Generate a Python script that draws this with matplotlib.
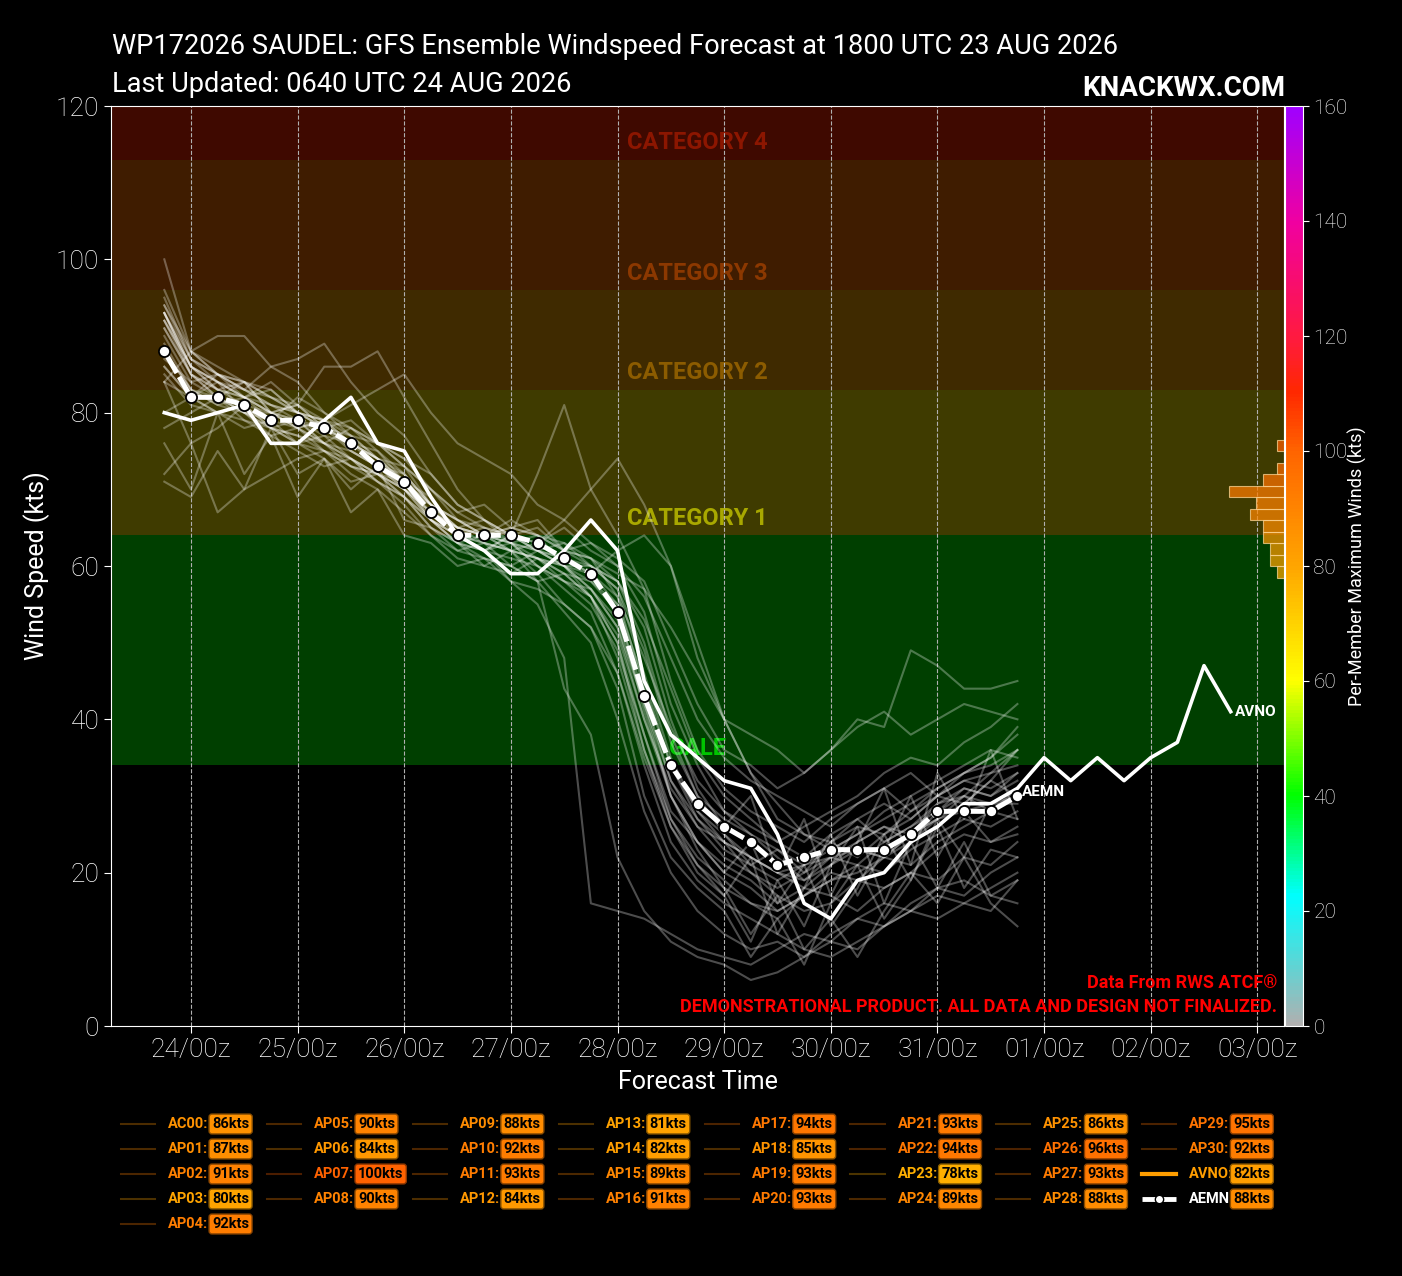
import numpy as np
import matplotlib
matplotlib.use("Agg")
import matplotlib.pyplot as plt
import matplotlib.colors as mcolors
import matplotlib.dates as mdates
import matplotlib.transforms as mtrans
from matplotlib import font_manager
from matplotlib.lines import Line2D
from datetime import datetime, timedelta

# ---------------- data ----------------
init = datetime(2026, 8, 23, 18)

members = ["AC00"] + [f"AP{i:02d}" for i in range(1, 31)]

AC00 = [86, 82, 80, 81, 78, 77, 76, 74, 72, 70, 66, 64, 63, 62, 61, 60, 57, 52, 40, 31, 26, 24, 22, 20, 21, 22, 23, 22, 24, 27, 28, 29, 30]
AP01 = [87, 84, 82, 80, 80, 78, 79, 75, 73, 72, 68, 65, 66, 64, 62, 63, 60, 58, 50, 38, 30, 27, 25, 22, 19, 21, 24, 26, 25, 29, 31, 30, 33]
AP02 = [91, 85, 83, 84, 80, 81, 78, 77, 74, 71, 69, 64, 65, 63, 64, 60, 58, 55, 41, 30, 24, 20, 18, 15, 17, 20, 19, 22, 25, 27, 29, 32, 36]
AP03 = [76, 70, 80, 72, 77, 69, 74, 70, 73, 66, 65, 62, 63, 60, 58, 59, 56, 50, 36, 27, 22, 19, 16, 14, 17, 19, 21, 20, 23, 25, 27, 26, 28]
AP04 = [92, 86, 84, 82, 83, 80, 78, 79, 76, 73, 70, 66, 64, 65, 66, 62, 60, 57, 46, 35, 28, 25, 21, 23, 20, 24, 22, 25, 27, 30, 32, 33, 34]
AP05 = [84, 88, 90, 90, 86, 84, 80, 78, 76, 74, 72, 68, 66, 64, 65, 62, 63, 60, 54, 42, 34, 28, 26, 24, 22, 25, 27, 24, 26, 29, 30, 28, 31]
AP06 = [84, 76, 67, 70, 72, 74, 75, 72, 70, 67, 64, 61, 60, 62, 59, 55, 52, 44, 30, 22, 18, 15, 9, 14, 8, 16, 21, 14, 19, 26, 18, 23, 22]
AP07 = [100, 88, 85, 84, 82, 80, 79, 76, 74, 73, 70, 67, 68, 65, 64, 62, 61, 56, 44, 34, 27, 23, 21, 19, 21, 24, 26, 25, 28, 31, 33, 35, 38]
AP08 = [90, 84, 85, 82, 84, 81, 86, 86, 88, 82, 76, 70, 66, 63, 61, 60, 56, 48, 36, 26, 20, 17, 11, 19, 13, 21, 26, 16, 24, 18, 24, 17, 19]
AP09 = [88, 83, 81, 82, 79, 78, 76, 73, 72, 70, 68, 64, 62, 64, 63, 66, 70, 74, 68, 60, 50, 40, 33, 29, 25, 23, 25, 27, 29, 31, 33, 34, 36]
AP10 = [92, 85, 82, 80, 79, 82, 80, 77, 74, 70, 67, 65, 64, 66, 64, 63, 61, 58, 52, 40, 31, 26, 30, 20, 27, 17, 24, 31, 21, 33, 27, 36, 27]
AP11 = [93, 86, 83, 81, 80, 79, 76, 78, 75, 71, 66, 63, 61, 60, 58, 54, 50, 40, 28, 20, 15, 12, 10, 11, 9, 12, 14, 13, 16, 18, 17, 20, 22]
AP12 = [80, 82, 84, 80, 77, 78, 75, 73, 71, 69, 66, 63, 62, 64, 72, 81, 70, 64, 57, 45, 36, 31, 28, 26, 24, 27, 29, 31, 28, 30, 32, 31, 33]
AP13 = [72, 76, 78, 81, 78, 76, 74, 71, 72, 69, 65, 63, 60, 59, 61, 58, 55, 49, 38, 28, 24, 20, 24, 16, 21, 13, 18, 25, 19, 27, 22, 29, 29]
AP14 = [78, 80, 82, 79, 77, 75, 73, 74, 71, 68, 64, 62, 61, 60, 62, 60, 57, 53, 42, 32, 26, 22, 20, 17, 15, 16, 19, 18, 20, 23, 25, 24, 26]
AP15 = [84, 82, 85, 83, 86, 87, 89, 84, 80, 77, 72, 68, 66, 64, 63, 65, 62, 60, 56, 48, 40, 35, 32, 30, 28, 26, 29, 31, 33, 30, 33, 35, 39]
AP16 = [91, 85, 83, 82, 80, 79, 77, 76, 73, 71, 66, 64, 62, 58, 55, 48, 16, 15, 14, 12, 10, 9, 8, 10, 12, 11, 14, 16, 15, 18, 19, 17, 16]
AP17 = [94, 87, 84, 83, 81, 80, 78, 76, 75, 72, 68, 66, 64, 63, 62, 60, 59, 55, 45, 34, 28, 24, 22, 20, 18, 21, 23, 22, 25, 27, 30, 29, 31]
AP18 = [85, 81, 80, 78, 79, 76, 75, 73, 72, 69, 66, 64, 62, 63, 60, 58, 56, 51, 40, 30, 24, 21, 19, 16, 18, 17, 15, 18, 20, 19, 22, 21, 24]
AP19 = [93, 85, 82, 84, 80, 78, 79, 76, 74, 71, 67, 65, 64, 62, 63, 61, 59, 62, 64, 60, 48, 40, 33, 27, 25, 24, 27, 29, 27, 30, 29, 32, 30]
AP20 = [93, 86, 83, 82, 80, 81, 78, 75, 73, 70, 66, 63, 62, 61, 60, 58, 57, 52, 42, 30, 23, 18, 12, 17, 10, 14, 9, 15, 20, 16, 22, 16, 13]
AP21 = [93, 87, 85, 83, 82, 80, 79, 81, 83, 85, 80, 76, 74, 72, 68, 66, 63, 61, 58, 50, 42, 36, 34, 31, 33, 36, 40, 39, 49, 47, 44, 44, 45]
AP22 = [94, 88, 85, 84, 82, 81, 79, 77, 76, 73, 68, 65, 64, 63, 60, 57, 54, 46, 34, 24, 19, 16, 14, 12, 10, 9, 11, 13, 15, 14, 16, 15, 19]
AP23 = [71, 69, 75, 70, 78, 72, 74, 67, 70, 64, 63, 60, 61, 58, 57, 55, 52, 46, 35, 26, 21, 18, 16, 15, 17, 19, 20, 22, 21, 24, 26, 28, 27]
AP24 = [89, 83, 81, 80, 78, 79, 76, 74, 72, 71, 68, 66, 65, 64, 62, 60, 60, 58, 53, 44, 35, 30, 27, 24, 26, 28, 30, 33, 35, 34, 37, 39, 42]
AP25 = [86, 82, 80, 79, 78, 76, 77, 74, 71, 69, 65, 63, 64, 62, 61, 59, 58, 54, 43, 32, 27, 24, 20, 18, 20, 22, 21, 24, 26, 28, 31, 30, 32]
AP26 = [96, 88, 86, 84, 83, 80, 79, 78, 76, 74, 70, 67, 65, 64, 62, 61, 60, 57, 49, 37, 30, 25, 22, 20, 19, 22, 24, 26, 24, 28, 30, 33, 36]
AP27 = [93, 86, 84, 82, 80, 78, 76, 75, 73, 70, 67, 64, 63, 62, 58, 44, 38, 22, 15, 11, 9, 8, 6, 7, 9, 11, 10, 13, 15, 17, 16, 18, 20]
AP28 = [88, 83, 82, 80, 78, 77, 75, 74, 72, 70, 67, 65, 64, 65, 64, 62, 61, 59, 57, 52, 46, 40, 38, 36, 33, 36, 39, 41, 38, 40, 42, 41, 40]
AP29 = [95, 87, 85, 83, 81, 79, 78, 76, 74, 72, 68, 65, 63, 62, 61, 59, 56, 50, 38, 27, 21, 17, 22, 12, 18, 25, 17, 23, 30, 22, 28, 24, 25]
AP30 = [92, 86, 84, 82, 81, 80, 78, 76, 74, 71, 68, 66, 64, 63, 62, 61, 59, 56, 48, 39, 32, 28, 25, 23, 21, 23, 25, 28, 30, 32, 34, 36, 35]

member_vals = [AC00, AP01, AP02, AP03, AP04, AP05, AP06, AP07, AP08, AP09, AP10,
               AP11, AP12, AP13, AP14, AP15, AP16, AP17, AP18, AP19, AP20,
               AP21, AP22, AP23, AP24, AP25, AP26, AP27, AP28, AP29, AP30]

AVNO = [80, 79, 80, 81, 76, 76, 79, 82, 76, 75, 69, 64, 62, 59, 59, 62, 66, 62,
        45, 38, 35, 32, 31, 25, 16, 14, 19, 20, 24, 26, 29, 29, 31, 35, 32, 35,
        32, 35, 37, 47, 41]

AEMN = [88, 82, 82, 81, 79, 79, 78, 76, 73, 71, 67, 64, 64, 64, 63, 61, 59, 54,
        43, 34, 29, 26, 24, 21, 22, 23, 23, 23, 25, 28, 28, 28, 30]

# per-member maximum winds as listed in the legend
legend_names = members + ["AVNO", "AEMN"]
max_winds = [86, 87, 91, 80, 92, 90, 84, 100, 90, 88, 92, 93, 84, 81, 82, 89, 91,
             94, 85, 93, 93, 93, 94, 78, 89, 86, 96, 93, 88, 95, 92, 82, 88]

band_lo = [34, 64, 83, 96, 113]
band_hi = [64, 83, 96, 113, 140]
band_names = ["GALE", "CATEGORY 1", "CATEGORY 2", "CATEGORY 3", "CATEGORY 4"]
band_fill = ["#003f00", "#3f3b00", "#3f2a00", "#3f1c00", "#3f0900"]
band_text = ["#00c400", "#a8a800", "#8c5c00", "#8c3800", "#8c1600"]

# ---------------- fonts ----------------
names = {f.name for f in font_manager.fontManager.ttflist}
FONT = "Roboto" if "Roboto" in names else "DejaVu Sans"
plt.rcParams["font.family"] = [FONT, "DejaVu Sans"]

# ---------------- colormap ----------------
cmap = mcolors.LinearSegmentedColormap.from_list("winds", [
    (0.0, "#b0b0b0"), (0.14, "#00ffff"), (0.25, "#00ff00"), (0.375, "#ffff00"),
    (0.5, "#ffa500"), (0.625, "#ff6400"), (0.69, "#ff2800"), (0.75, "#ff1a40"),
    (0.875, "#f000a0"), (1.0, "#a000ff")])
norm = mcolors.Normalize(0, 160)

# ---------------- figure ----------------
W, H = 1402, 1276
fig = plt.figure(figsize=(W / 100, H / 100), dpi=100, facecolor="black")


def fx(px):
    return px / W


def fy(py):
    return 1 - py / H


rect = [fx(111), fy(1026), fx(1284) - fx(111), fy(106) - fy(1026)]
ax = fig.add_axes(rect, facecolor="black")

times = [init + timedelta(hours=6 * i) for i in range(len(AEMN))]
avno_times = [init + timedelta(hours=6 * i) for i in range(len(AVNO))]

for lo, hi, c in zip(band_lo, band_hi, band_fill):
    ax.axhspan(lo, hi, color=c, zorder=0.5, lw=0)

lab_tr = mtrans.blended_transform_factory(ax.transAxes, ax.transData)
for lo, name, c in zip(band_lo, band_names, band_text):
    ax.text(0.5, lo + 2.2, name, transform=lab_tr, ha="center", va="center",
            color=c, fontsize=17, fontweight="bold", zorder=1)

for vals in member_vals:
    ax.plot(times, vals, color="white", alpha=0.3, lw=1.5, zorder=3)

ax.plot(avno_times, AVNO, color="white", lw=2.6, zorder=5)
ax.plot(times, AEMN, color="white", lw=3.6, ls=(0, (5, 0.9)), marker="o", ms=8,
        mfc="white", mec="black", mew=1.3, zorder=6)

ax.text(times[-1] + timedelta(hours=1), AEMN[-1] + 0.5, "AEMN", color="white",
        fontsize=11, fontweight="bold", va="center", ha="left", zorder=7)
ax.text(avno_times[-1] + timedelta(hours=1), AVNO[-1], "AVNO", color="white",
        fontsize=11, fontweight="bold", va="center", ha="left", zorder=7)

ax.set_xlim(init - timedelta(hours=12), avno_times[-1] + timedelta(hours=12))
ax.set_ylim(0, 120)
ax.set_yticks(range(0, 121, 20))
ax.xaxis.set_major_locator(mdates.DayLocator())
ax.xaxis.set_major_formatter(mdates.DateFormatter("%d/%Hz"))
ax.set_axisbelow("line")
ax.grid(axis="x", color="#b0b0b0", ls="--", lw=0.8)
ax.tick_params(colors="white", labelsize=19, length=5)
for lab in ax.get_xticklabels() + ax.get_yticklabels():
    lab.set_fontweight("light")
for sp in ax.spines.values():
    sp.set_color("white")
ax.set_ylabel("Wind Speed (kts)", color="white", fontsize=18, labelpad=4)
ax.set_xlabel("Forecast Time", color="white", fontsize=18, labelpad=6)

# histogram of per-member maxima, in colorbar units
axh = fig.add_axes(rect)
axh.patch.set_visible(False)
axh.axis("off")
bins = np.arange(0, 162, 2)
counts, _ = np.histogram(max_winds, bins=bins)
axh.barh(bins[:-1], counts, height=2, align="edge",
         color=cmap(norm(bins[:-1] + 1)), alpha=0.72,
         edgecolor=(1, 0.85, 0.6, 0.35), lw=0.8)
axh.set_ylim(0, 160)
axh.set_xlim(170, 0)

# colorbar
cax = fig.add_axes([fx(1285), fy(1026), fx(1303) - fx(1285), fy(106) - fy(1026)])
cb = fig.colorbar(plt.cm.ScalarMappable(norm=norm, cmap=cmap), cax=cax)
cb.set_ticks(range(0, 161, 20))
cb.outline.set_edgecolor("white")
cax.tick_params(colors="white", labelsize=15, length=4)
for lab in cax.get_yticklabels():
    lab.set_fontweight("light")
cb.set_label("Per-Member Maximum Winds (kts)", color="white", fontsize=13, labelpad=0)

# titles
fig.text(fx(112), fy(46), "WP172026 SAUDEL: GFS Ensemble Windspeed Forecast at 1800 UTC 23 AUG 2026",
         color="white", fontsize=19.6, va="center", ha="left")
fig.text(fx(112), fy(84), "Last Updated: 0640 UTC 24 AUG 2026",
         color="white", fontsize=19.6, va="center", ha="left")
fig.text(fx(1285), fy(88), "KNACKWX.COM", color="white", fontsize=20,
         fontweight="bold", va="center", ha="right")

fig.text(fx(1277), fy(983), "Data From RWS ATCF®", color="#ff0000", fontsize=13,
         fontweight="bold", va="center", ha="right")
fig.text(fx(1277), fy(1007), "DEMONSTRATIONAL PRODUCT. ALL DATA AND DESIGN NOT FINALIZED.",
         color="#ff0000", fontsize=13, fontweight="bold", va="center", ha="right")

# legend, laid out like an 8-column matplotlib legend
ncol = 8
nrow_first = len(legend_names) - 4 * (ncol - 1)
col_of, row_of = [], []
for k in range(len(legend_names)):
    if k < nrow_first:
        col_of.append(0)
        row_of.append(k)
    else:
        col_of.append(1 + (k - nrow_first) // 4)
        row_of.append((k - nrow_first) % 4)

for k, (nm, v) in enumerate(zip(legend_names, max_winds)):
    x0 = 121 + 145.9 * col_of[k]
    y0 = 1124 + 25 * row_of[k]
    c = cmap(norm(v))
    if nm == "AEMN":
        fig.add_artist(Line2D([fx(x0), fx(x0 + 34)], [fy(y0), fy(y0)], color="white",
                              lw=3.5, ls=(0, (3, 1.2)), transform=fig.transFigure))
        fig.add_artist(Line2D([fx(x0 + 17)], [fy(y0)], color="white", marker="o", ms=6,
                              mec="black", mew=1, transform=fig.transFigure))
        tc = "white"
    elif nm == "AVNO":
        fig.add_artist(Line2D([fx(x0), fx(x0 + 34)], [fy(y0), fy(y0)], color=c,
                              lw=3, transform=fig.transFigure))
        tc = c
    else:
        fig.add_artist(Line2D([fx(x0), fx(x0 + 34)], [fy(y0), fy(y0)], color=c,
                              alpha=0.3, lw=1.5, transform=fig.transFigure))
        tc = c
    fig.text(fx(x0 + 47), fy(y0), nm + ":", color=tc, fontsize=10.5,
             fontweight="bold", va="center", ha="left")
    edge = tuple(np.array(c[:3]) * 0.55)
    fig.text(fx(x0 + 91), fy(y0), f"{v}kts", color="black", fontsize=10.5,
             fontweight="bold", va="center", ha="left",
             bbox=dict(boxstyle="round,pad=0.2,rounding_size=0.2", fc=c, ec=edge, lw=1))

fig.savefig("out.png", dpi=100, facecolor="black")
